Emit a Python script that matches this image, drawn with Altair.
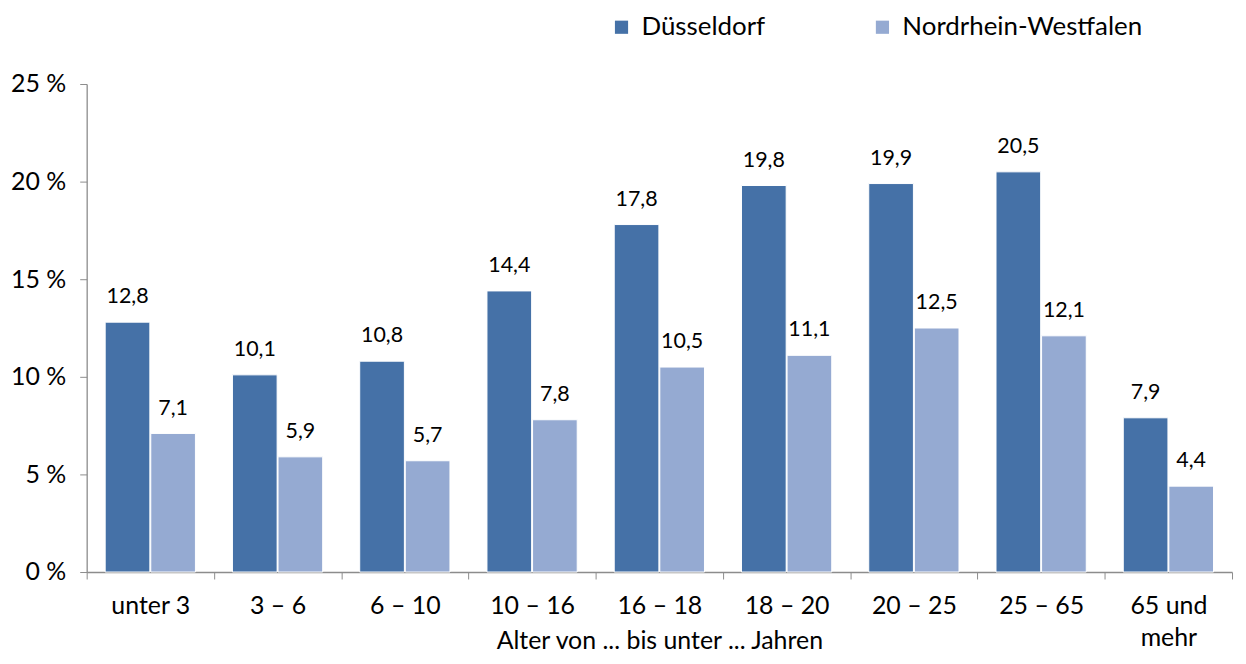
import altair as alt
import pandas as pd

categories = ["unter 3", "3 –  6", "6 – 10", "10 – 16", "16 – 18",
              "18 – 20", "20 – 25", "25 – 65", "65 und mehr"]
duesseldorf = [12.8, 10.1, 10.8, 14.4, 17.8, 19.8, 19.9, 20.5, 7.9]
nrw = [7.1, 5.9, 5.7, 7.8, 10.5, 11.1, 12.5, 12.1, 4.4]
series = ["Düsseldorf", "Nordrhein-Westfalen"]
colors = ["#4571A7", "#95AAD2"]
y_ticks = [0, 5, 10, 15, 20, 25]

rows = []
for c, d, n in zip(categories, duesseldorf, nrw):
    rows.append({"cat": c, "series": series[0], "value": d})
    rows.append({"cat": c, "series": series[1], "value": n})
df = pd.DataFrame(rows)

FONT = "Lato"

x = alt.X(
    "cat:N", sort=categories,
    scale=alt.Scale(paddingInner=0, paddingOuter=0),
    axis=alt.Axis(
        title="Alter von ... bis unter ... Jahren",
        labelAngle=0, tickBand="extent", grid=False,
        labelExpr="datum.value == '65 und mehr' ? ['65 und', 'mehr'] : datum.value",
        labelFont=FONT, labelFontSize=25, labelColor="black", labelPadding=15,
        labelLineHeight=32,
        titleFont=FONT, titleFontSize=25, titleFontWeight="normal", titleColor="black",
        titleY=57, titleBaseline="top",
        domainColor="#8c8c8c", tickColor="#8c8c8c", tickSize=7, domainWidth=1.3,
    ),
)
xo = alt.XOffset("series:N", sort=series,
                 scale=alt.Scale(paddingInner=0.02, paddingOuter=0.406))
y = alt.Y(
    "value:Q", scale=alt.Scale(domain=[0, 25]),
    axis=alt.Axis(
        values=y_ticks, labelExpr="datum.value + ' %'", grid=False, title=None,
        labelFont=FONT, labelFontSize=25, labelColor="black", labelPadding=14,
        domainColor="#8c8c8c", tickColor="#8c8c8c", tickSize=7, domainWidth=1.3,
    ),
)

bars = alt.Chart(df).mark_bar(stroke="white", strokeWidth=1).encode(
    x=x, xOffset=xo, y=y,
    color=alt.Color(
        "series:N", sort=series,
        scale=alt.Scale(domain=series, range=colors),
        legend=alt.Legend(
            title=None, orient="none", legendX=524, legendY=-70,
            direction="horizontal", symbolType="square", symbolSize=175,
            symbolStrokeWidth=0, labelFont=FONT, labelFontSize=26,
            labelColor="black", columnPadding=104, labelOffset=7, labelLimit=0,
        ),
    ),
)

labels = alt.Chart(df).transform_calculate(
    label="replace(format(datum.value, '.1f'), '.', ',')"
).mark_text(baseline="bottom", dy=-14, font=FONT, fontSize=21.5, color="black").encode(
    x=x, xOffset=xo, y=y, text="label:N",
)

chart = (bars + labels).properties(
    width=1150, height=490,
    padding={"left": 2, "top": 5, "right": 5, "bottom": 0},
).configure_view(stroke=None)

chart.save("out.html", embed_options={"renderer": "svg", "actions": False})
